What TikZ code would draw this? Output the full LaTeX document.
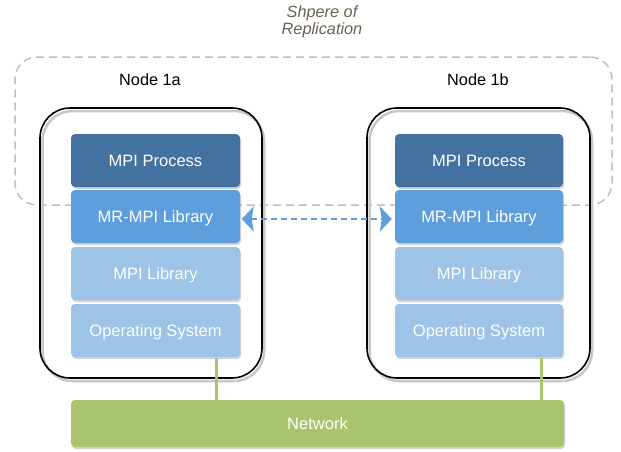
\documentclass[tikz,border=0pt]{standalone}
\usepackage{fontspec}
\setmainfont{Liberation Sans}
\usetikzlibrary{arrows.meta,shadows}

\definecolor{procblue}{RGB}{67,113,160}
\definecolor{mrblue}{RGB}{95,158,221}
\definecolor{libblue}{RGB}{157,195,230}
\definecolor{netgreen}{RGB}{169,196,108}
\definecolor{spheregray}{RGB}{190,190,190}
\definecolor{captioncol}{RGB}{105,98,78}

\tikzset{
  layer/.style={rectangle, rounded corners=4pt, minimum width=169pt, minimum height=53pt,
    text=white, font=\fontsize{16.5}{19}\selectfont, inner sep=0pt,
    text height=12pt, text depth=0pt,
    drop shadow={shadow xshift=1pt, shadow yshift=-2pt, opacity=0.35}},
  proc/.style={layer, fill=procblue},
  mr/.style={layer, fill=mrblue},
  lib/.style={layer, fill=libblue},
  host/.style={rectangle, rounded corners=30pt, minimum width=222pt, minimum height=270pt,
    draw=black, line width=1.6pt, inner sep=0pt},
  hostshadow/.style={draw=black!22, line width=2.5pt, rounded corners=30pt},
  hostlabel/.style={font=\fontsize{16.3}{19}\selectfont, text=black},
  link/.style={draw=netgreen, line width=3pt},
  replica/.style={draw=mrblue, line width=2pt, dash pattern=on 6pt off 4pt,
    {Stealth[length=12pt,width=25pt,inset=2pt]}-{Stealth[length=12pt,width=25pt,inset=2pt]}}
}

\begin{document}
\begin{tikzpicture}[x=1pt,y=-1pt]
\useasboundingbox (0,0) rectangle (621,451);

% sphere of replication
\node[rectangle, rounded corners=22pt, minimum width=597pt, minimum height=148pt,
  draw=spheregray, line width=1.5pt, dash pattern=on 8pt off 5pt, inner sep=0pt]
  (sphere) at (313.5,131) {};
\node[font=\itshape\fontsize{16.3}{17.5}\selectfont, text=captioncol, align=center]
  (caption) at (322,22) {Shpere of\\Replication};

% host outlines with a soft offset shadow
\draw[hostshadow] (42.5,111) rectangle (264,381);
\draw[hostshadow] (369.5,111) rectangle (592,381);
\node[host] (n1a) at (151,243) {};
\node[host, minimum width=223pt] (n1b) at (478.5,243) {};
\node[hostlabel] (l1a) at (150,80) {Node 1a};
\node[hostlabel] (l1b) at (478,80) {Node 1b};

% software stacks
\node[proc] (procA) at (155.5,160.5) {MPI Process};
\node[mr]   (mrA)   at (155.5,216.5) {MR-MPI Library};
\node[lib]  (libA)  at (155.5,273.5) {MPI Library};
\node[lib]  (osA)   at (155.5,330.5) {Operating System};

\node[proc, minimum width=168pt] (procB) at (479,160.5) {MPI Process};
\node[mr,   minimum width=168pt] (mrB)   at (479,216.5) {MR-MPI Library};
\node[lib,  minimum width=168pt] (libB)  at (479,273.5) {MPI Library};
\node[lib,  minimum width=168pt] (osB)   at (479,330.5) {Operating System};

% network
\node[layer, fill=netgreen, minimum width=493pt, minimum height=47pt] (net) at (317.5,423.5) {Network};

\coordinate (tapA) at (216,357.5);
\coordinate (tapB) at (541,357.5);
\draw[link] (tapA) -- (tapA |- net.north);
\draw[link] (tapB) -- (tapB |- net.north);

% replication channel
\draw[replica, shorten <=1.5pt, shorten >=3pt] ([yshift=-2.5pt]mrA.east) -- ([yshift=-2.5pt]mrB.west);
\end{tikzpicture}
\end{document}
